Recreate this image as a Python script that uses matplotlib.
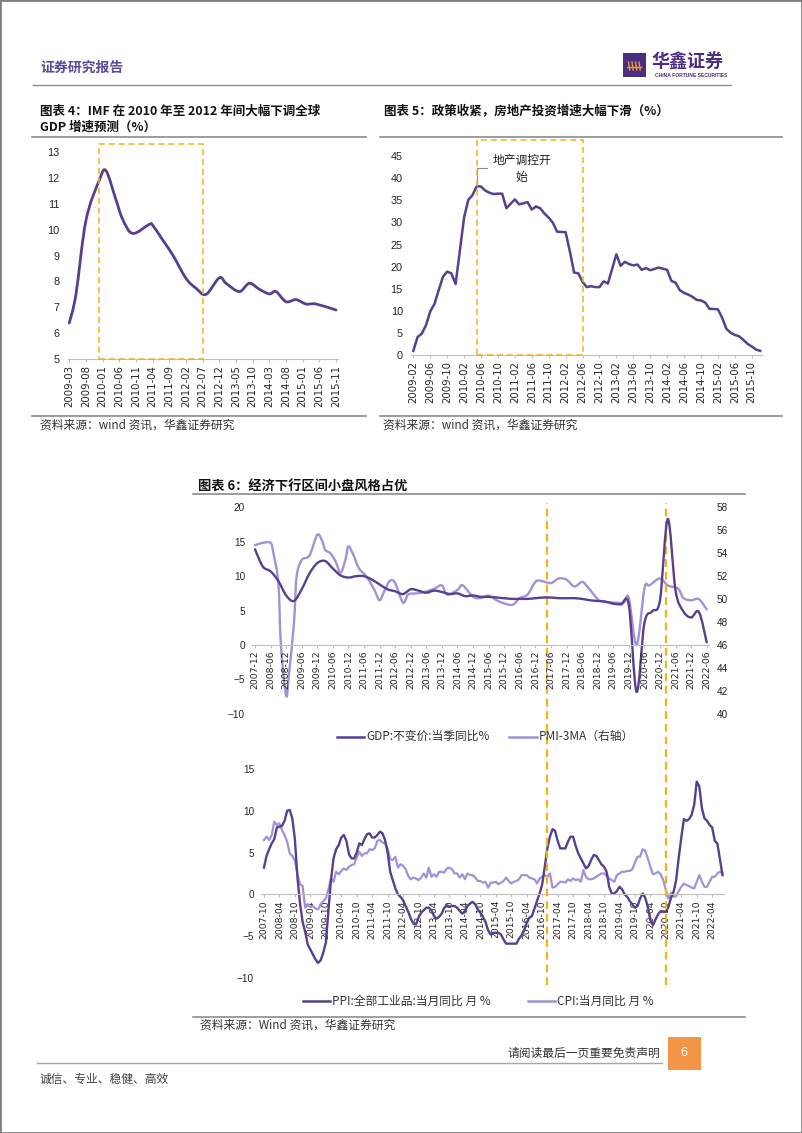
"""Page 6 of the report: IMF GDP forecast, real-estate investment, and the
GDP / PMI / PPI / CPI panel, laid out as on the printed page."""

import matplotlib

matplotlib.use("Agg")
import matplotlib.pyplot as plt  # noqa: E402
import numpy as np  # noqa: E402
from matplotlib.lines import Line2D  # noqa: E402
from matplotlib.patches import PathPatch, Rectangle  # noqa: E402
from matplotlib.path import Path  # noqa: E402

# ---------------- data ----------------
# chart 4: IMF forecast (%)
imf_dates = ["2009-03", "2009-05", "2009-08", "2009-12", "2010-02", "2010-05",
             "2010-07", "2010-10", "2011-03", "2011-04", "2011-07", "2011-10",
             "2012-02", "2012-05", "2012-08", "2012-12", "2013-02", "2013-06",
             "2013-09", "2013-12", "2014-03", "2014-05", "2014-08", "2014-11",
             "2015-02", "2015-05", "2015-11"]
imf_vals = [6.4, 7.5, 10.35, 11.9, 12.27, 11.15, 10.4, 9.85, 10.2, 10.17, 9.6,
            9.03, 8.12, 7.74, 7.5, 8.14, 7.93, 7.61, 7.93, 7.7, 7.52, 7.61,
            7.22, 7.3, 7.13, 7.13, 6.9]
imf_ticks = ["2009-03", "2009-08", "2010-01", "2010-06", "2010-11", "2011-04",
             "2011-09", "2012-02", "2012-07", "2012-12", "2013-05", "2013-10",
             "2014-03", "2014-08", "2015-01", "2015-06", "2015-11"]
imf_box = ["2009-12", "2012-07"]
imf_box_top = 13.3

# chart 5: real-estate investment, cumulative yoy (%), Feb-Dec each year
re_years = [2009, 2010, 2011, 2012, 2013, 2014, 2015]
re_vals = [1.0, 4.1, 4.9, 6.8, 9.9, 11.6, 14.7, 17.7, 18.9, 18.5, 16.1,
           31.1, 35.1, 36.2, 38.2, 38.1, 37.2, 36.7, 36.4, 36.5, 36.5, 33.2,
           35.2, 34.1, 34.3, 34.6, 32.9, 33.6, 33.2, 32.0, 31.1, 29.9, 27.9,
           27.8, 23.5, 18.7, 18.5, 16.6, 15.4, 15.6, 15.4, 15.4, 16.7, 16.2,
           22.8, 20.2, 21.1, 20.6, 20.3, 20.5, 19.3, 19.7, 19.2, 19.5, 19.8,
           19.3, 16.8, 16.4, 14.7, 14.1, 13.7, 13.2, 12.5, 12.4, 11.9, 10.5,
           10.4, 8.5, 6.0, 5.1, 4.6, 4.3, 3.5, 2.6, 2.0, 1.3, 1.0]
re_ticks = ["2009-02", "2009-06", "2009-10", "2010-02", "2010-06", "2010-10",
            "2011-02", "2011-06", "2011-10", "2012-02", "2012-06", "2012-10",
            "2013-02", "2013-06", "2013-10", "2014-02", "2014-06", "2014-10",
            "2015-02", "2015-06", "2015-10"]
re_box = ["2010-05", "2012-06"]
re_box_top = 48.6
re_note = "地产调控开\n始"

# chart 6 top: GDP quarterly yoy from 2007-12, PMI 3MA (right axis)
gdp_start = "2007-12"
gdp_vals = [13.9,
            11.4, 10.7, 9.3, 7.2,
            6.4, 8.1, 10.4, 11.9,
            12.2, 11.1, 10.1, 9.8,
            10.0, 10.0, 9.5, 8.8,
            8.1, 7.8, 7.4, 8.1,
            7.9, 7.6, 7.9, 7.7,
            7.4, 7.5, 7.1, 7.2,
            7.0, 7.0, 6.9, 6.8,
            6.7, 6.7, 6.7, 6.8,
            6.9, 6.9, 6.8, 6.8,
            6.8, 6.7, 6.5, 6.4,
            6.3, 6.0, 5.9, 5.8,
            -6.8, 3.2, 4.9, 6.5,
            18.3, 7.9, 4.9, 4.0,
            4.8, 0.4]
pmi_dates = ["2007-12", "2008-03", "2008-06", "2008-07", "2008-09", "2008-10",
             "2008-12", "2009-01", "2009-03", "2009-04", "2009-06", "2009-09",
             "2009-12", "2010-02", "2010-03", "2010-05", "2010-07", "2010-09",
             "2010-11", "2010-12", "2011-02", "2011-04", "2011-07", "2011-10",
             "2011-12", "2012-02", "2012-04", "2012-06", "2012-09", "2012-11",
             "2013-02", "2013-05", "2013-09", "2013-12", "2014-02", "2014-06",
             "2014-08", "2014-12", "2015-03", "2015-06", "2015-10", "2016-03",
             "2016-06", "2016-09", "2016-12", "2017-02", "2017-06", "2017-09",
             "2017-12", "2018-03", "2018-06", "2018-08", "2018-12", "2019-02",
             "2019-06", "2019-10", "2019-12", "2020-03", "2020-06", "2020-08",
             "2020-12", "2021-03", "2021-07", "2021-09", "2021-12", "2022-03",
             "2022-06"]
pmi_vals = [54.7, 54.9, 54.9, 54.1, 51.4, 45.9,
            41.6, 43.3, 47.9, 51.9, 53.4, 53.8,
            55.6, 55.0, 54.3, 54.0, 53.3, 52.3,
            53.6, 54.6, 53.8, 52.7, 51.95, 50.8,
            49.9, 50.8, 51.6, 51.4, 49.7, 50.4,
            50.5, 50.6, 50.9, 51.2, 50.4, 50.8,
            51.2, 50.2, 50.1, 50.3, 49.8, 49.5,
            50.1, 50.4, 51.5, 51.6, 51.4, 51.8,
            51.7, 51.1, 51.5, 51.1, 50.0, 49.8,
            49.7, 49.7, 50.1, 46.0, 50.9, 51.2,
            51.8, 51.2, 50.9, 50.1, 49.9, 50.0,
            49.1]
top_ticks = ["2007-12", "2008-06", "2008-12", "2009-06", "2009-12", "2010-06",
             "2010-12", "2011-06", "2011-12", "2012-06", "2012-12", "2013-06",
             "2013-12", "2014-06", "2014-12", "2015-06", "2015-12", "2016-06",
             "2016-12", "2017-06", "2017-12", "2018-06", "2018-12", "2019-06",
             "2019-12", "2020-06", "2020-12", "2021-06", "2021-12", "2022-06"]

# chart 6 bottom: PPI and CPI monthly yoy from 2007-10
price_start = "2007-10"
ppi_vals = [3.2, 4.6, 5.4,
            6.1, 6.6, 8.0, 8.1, 8.2, 8.8, 10.0, 10.1, 9.1, 6.6, 2.0, -1.1,
            -3.3, -4.5, -6.0, -6.6, -7.2, -7.8, -8.2, -7.9, -7.0, -5.8, -2.1, 1.7,
            4.3, 5.4, 5.9, 6.8, 7.1, 6.4, 4.8, 4.3, 4.3, 5.0, 6.1, 5.9,
            6.6, 7.2, 7.3, 6.8, 6.8, 7.1, 7.5, 7.3, 6.5, 5.0, 2.7, 1.7,
            0.7, 0.0, -0.3, -0.7, -1.4, -2.1, -2.9, -3.5, -3.6, -2.8, -2.2, -1.9,
            -1.6, -1.6, -1.9, -2.6, -2.9, -2.7, -2.3, -1.6, -1.3, -1.5, -1.4, -1.4,
            -1.6, -2.0, -2.3, -2.0, -1.4, -1.1, -0.9, -1.2, -1.8, -2.2, -2.7, -3.3,
            -4.3, -4.8, -4.6, -4.6, -4.6, -4.8, -5.4, -5.9, -5.9, -5.9, -5.9, -5.9,
            -5.3, -4.9, -4.3, -3.4, -2.8, -2.6, -1.7, -0.8, 0.1, 1.2, 3.3, 5.5,
            6.9, 7.8, 7.6, 6.4, 5.5, 5.5, 5.5, 6.3, 6.9, 6.9, 5.8, 4.9,
            4.3, 3.7, 3.1, 3.4, 4.1, 4.7, 4.6, 4.1, 3.6, 3.3, 2.7, 0.9,
            0.1, 0.1, 0.4, 0.9, 0.6, 0.0, -0.3, -0.8, -1.2, -1.6, -1.4, -0.5,
            0.1, -0.4, -1.5, -3.1, -3.7, -3.0, -2.4, -2.0, -2.1, -2.1, -1.5, -0.4,
            0.3, 1.7, 4.4, 6.8, 9.0, 8.8, 9.0, 9.5, 10.7, 13.5, 12.9, 10.3,
            9.1, 8.8, 8.3, 8.0, 6.4, 6.1, 4.2, 2.3]
cpi_vals = [6.5, 6.9, 6.5,
            7.1, 8.7, 8.3, 8.5, 7.7, 7.1, 6.3, 4.9, 4.6, 4.0, 2.4, 1.2,
            1.0, -1.6, -1.2, -1.5, -1.4, -1.7, -1.8, -1.2, -0.8, -0.5, 0.6, 1.9,
            1.5, 2.7, 2.4, 2.8, 3.1, 2.9, 3.3, 3.5, 3.6, 4.4, 5.1, 4.6,
            4.9, 4.9, 5.4, 5.3, 5.5, 6.4, 6.5, 6.2, 6.1, 5.5, 4.2, 4.1,
            4.5, 3.2, 3.6, 3.4, 3.0, 2.2, 1.8, 2.0, 1.9, 1.7, 2.0, 2.5,
            2.0, 3.2, 2.1, 2.4, 2.1, 2.7, 2.7, 2.6, 3.1, 3.2, 3.0, 2.5,
            2.5, 2.0, 2.4, 1.8, 2.5, 2.3, 2.3, 2.0, 1.6, 1.6, 1.4, 1.5,
            0.8, 1.4, 1.4, 1.5, 1.2, 1.4, 1.6, 2.0, 1.6, 1.3, 1.5, 1.6,
            1.8, 2.3, 2.3, 2.3, 2.0, 1.9, 1.8, 1.3, 1.9, 2.1, 2.3, 2.1,
            2.5, 0.8, 0.9, 1.2, 1.5, 1.5, 1.4, 1.8, 1.6, 1.9, 1.7, 1.8,
            1.5, 2.9, 2.1, 1.8, 1.8, 1.9, 2.1, 2.3, 2.5, 2.5, 2.2, 1.9,
            1.7, 1.5, 2.3, 2.5, 2.7, 2.7, 2.8, 2.8, 3.0, 3.8, 4.5, 4.5,
            5.4, 5.2, 4.3, 3.3, 2.4, 2.5, 2.7, 2.4, 1.7, 0.5, -0.5, 0.2,
            -0.3, -0.2, 0.4, 0.9, 1.3, 1.1, 1.0, 0.8, 0.7, 1.5, 2.3, 1.5,
            0.9, 0.9, 1.5, 2.1, 2.1, 2.5, 2.7, 2.5]
bottom_ticks = ["2007-10", "2008-04", "2008-10", "2009-04", "2009-10", "2010-04",
                "2010-10", "2011-04", "2011-10", "2012-04", "2012-10", "2013-04",
                "2013-10", "2014-04", "2014-10", "2015-04", "2015-10", "2016-04",
                "2016-10", "2017-04", "2017-10", "2018-04", "2018-10", "2019-04",
                "2019-10", "2020-04", "2020-10", "2021-04", "2021-10", "2022-04"]
marker_dates = ["2016-12", "2020-10"]

# ---------------- style ----------------
W, H = 802, 1133
plt.rcParams["font.family"] = ["Liberation Sans", "Noto Sans CJK SC", "DejaVu Sans"]
CJK = ["Noto Sans CJK SC", "DejaVu Sans"]
DARK = "#56408F"
LIGHT = "#A391D8"
GOLD = "#F3B31B"
AXIS = "#BFBFBF"
RULE = "#8C8C8C"
PURPLE = "#4B2D82"
TICK = "#262626"

fig = plt.figure(figsize=(W / 100, H / 100), dpi=100)


def mi(s, base):
    y, m = map(int, s.split("-"))
    by, bm = map(int, base.split("-"))
    return (y - by) * 12 + (m - bm)


def add_ax(left, top, right, bottom):
    return fig.add_axes([left / W, 1 - bottom / H, (right - left) / W, (bottom - top) / H])


def smooth(ax, x, y, **kw):
    # smoothed line through the points (Catmull-Rom as cubic Bezier)
    p = np.column_stack([x, y]).astype(float)
    e = np.vstack([p[0], p, p[-1]])
    verts, codes = [p[0]], [Path.MOVETO]
    for i in range(len(p) - 1):
        p0, p1, p2, p3 = e[i], e[i + 1], e[i + 2], e[i + 3]
        verts += [p1 + (p2 - p0) / 6, p2 - (p3 - p1) / 6, p2]
        codes += [Path.CURVE4] * 3
    ax.add_patch(PathPatch(Path(verts, codes), fill=False, joinstyle="round",
                           capstyle="round", **kw))


def style(ax, ysize, ypad, xsize):
    for s in ("left", "right", "top"):
        ax.spines[s].set_visible(False)
    ax.spines["bottom"].set_color(AXIS)
    ax.spines["bottom"].set_linewidth(0.8)
    ax.patch.set_visible(False)
    ax.tick_params(axis="y", length=0, pad=ypad, labelsize=ysize, labelcolor=TICK)
    ax.tick_params(axis="x", length=2.5, width=0.8, color=AXIS, pad=1.5,
                   labelsize=xsize, labelcolor=TICK)


def xticks(ax, labels, base, size):
    ax.set_xticks([mi(d, base) for d in labels])
    ax.set_xticklabels(labels, rotation=90, fontsize=size, family="DejaVu Sans")


def hline(x1, x2, y, color=RULE, lw=1.0):
    fig.add_artist(Line2D([x1 / W, x2 / W], [1 - y / H, 1 - y / H],
                          transform=fig.transFigure, color=color, lw=lw))


def ftext(x, y, s, size, color="#222222", weight="normal", ha="left"):
    fig.text(x / W, 1 - y / H, s, fontsize=size, color=color, fontweight=weight,
             ha=ha, va="center", family=CJK)


def legend_item(x1, x2, y, color, label):
    hline(x1, x2, y, color=color, lw=1.8)
    ftext(x2 + 2, y, label, 8.5, color="#333333")


# ---------------- page furniture ----------------
fig.add_artist(Rectangle((0, 0), 1, 1, transform=fig.transFigure, fill=False,
                         ec="#808080", lw=2))
ftext(40, 68, "证券研究报告", 10, color="#5B4A9A", weight="bold")
fig.add_artist(Rectangle((623 / W, 1 - 77 / H), 22.5 / W, 24 / H,
                         transform=fig.transFigure, fc=PURPLE, ec="none"))
hline(627, 641, 67, color="#F39A2B", lw=1.0)
for sx in (628.5, 632, 635.5, 639):
    fig.add_artist(Line2D([sx / W, (sx + 1.2) / W], [1 - 62 / H, 1 - 70 / H],
                          transform=fig.transFigure, color="#F39A2B", lw=1.0))
ftext(651, 62.5, "华鑫证券", 13, color=PURPLE, weight="bold")
fig.text(655 / W, 1 - 75.5 / H, "CHINA FORTUNE SECURITIES", fontsize=3.6,
         color=PURPLE, fontweight="bold", ha="left", va="center")
hline(33, 731, 84.5)

ftext(40, 111, "图表 4：IMF 在 2010 年至 2012 年间大幅下调全球", 9, color="#111111", weight="bold")
ftext(40, 127, "GDP 增速预测（%）", 9, color="#111111", weight="bold")
ftext(384, 111, "图表 5：政策收紧，房地产投资增速大幅下滑（%）", 9, color="#111111", weight="bold")
hline(32, 366, 137.3, lw=1.2)
hline(380, 782, 137.3, lw=1.2)
hline(32, 366, 416, lw=1.2)
hline(380, 782, 416, lw=1.2)
ftext(40, 425.5, "资料来源：wind 资讯，华鑫证券研究", 8.5, color="#333333")
ftext(383, 425.5, "资料来源：wind 资讯，华鑫证券研究", 8.5, color="#333333")

ftext(198, 485.5, "图表 6：经济下行区间小盘风格占优", 9.5, color="#111111", weight="bold")
hline(193, 745, 494, lw=1.2)
hline(193, 745, 1016.5, lw=1.2)
ftext(200, 1025.5, "资料来源：Wind 资讯，华鑫证券研究", 8.5, color="#333333")

ftext(660, 1053, "请阅读最后一页重要免责声明", 8.5, color="#333333", ha="right")
fig.add_artist(Rectangle((667.5 / W, 1 - 1070 / H), 33.3 / W, 33 / H,
                         transform=fig.transFigure, fc="#F39447", ec="none"))
fig.text(684 / W, 1 - 1053 / H, "6", fontsize=9, color="white", ha="center", va="center")
hline(37, 662, 1062.5, color="#A6A6A6", lw=1.0)
ftext(40, 1079, "诚信、专业、稳健、高效", 8.5, color="#404040")

# ---------------- chart 4 ----------------
ax4 = add_ax(67.6, 151.7, 338.0, 359.3)
base4 = imf_dates[0]
smooth(ax4, [mi(d, base4) for d in imf_dates], imf_vals, ec=DARK, lw=2.0)
ax4.set_xlim(-0.5, 80.6)
ax4.set_ylim(5, 13)
ax4.set_yticks(range(5, 14))
style(ax4, 7.8, 6, 7.3)
xticks(ax4, imf_ticks, base4, 7.3)
b0, b1 = mi(imf_box[0], base4), mi(imf_box[1], base4)
ax4.add_patch(Rectangle((b0, 5), b1 - b0, imf_box_top - 5, fill=False, ec=GOLD,
                        lw=1.1, ls=(0, (4, 2.5)), clip_on=False, zorder=3))

# ---------------- chart 5 ----------------
ax5 = add_ax(411.2, 156.0, 762.3, 355.3)
base5 = re_ticks[0]
re_dates = [f"{y}-{m:02d}" for y in re_years for m in range(2, 13)]
x5 = [mi(d, base5) for d in re_dates]
ax5.plot(x5, re_vals, color=DARK, lw=1.8, solid_joinstyle="round")
ax5.set_xlim(-0.5, 82.5)
ax5.set_ylim(0, 45)
ax5.set_yticks(range(0, 50, 5))
style(ax5, 7.8, 6, 7.3)
xticks(ax5, re_ticks, base5, 7.3)
b0, b1 = mi(re_box[0], base5), mi(re_box[1], base5)
ax5.add_patch(Rectangle((b0, 0), b1 - b0, re_box_top, fill=False, ec=GOLD,
                        lw=1.1, ls=(0, (4, 2.5)), clip_on=False, zorder=3))
pk = int(np.argmax(re_vals))
px, py = x5[pk], re_vals[pk]
ax5.plot([px, px, px + 2.5], [py, py + 4, py + 4], color="#8C8C8C", lw=0.8,
         clip_on=False)
ax5.text(px + 10.6, py + 3.8, re_note, ha="center", va="center", fontsize=8.5,
         family=CJK, color="#222222", linespacing=1.4)

# ---------------- chart 6 top ----------------
ax6 = add_ax(252.4, 507.3, 709.3, 713.9)
ax6r = ax6.twinx()
ax6.set_zorder(ax6r.get_zorder() + 1)
smooth(ax6, [3 * i for i in range(len(gdp_vals))], gdp_vals, ec=DARK, lw=1.7)
smooth(ax6r, [mi(d, gdp_start) for d in pmi_dates], pmi_vals, ec=LIGHT, lw=1.7)
ax6.set_xlim(-1, 175)
ax6.set_ylim(-10, 20)
ax6.set_yticks(range(-10, 25, 5))
ax6r.set_ylim(40, 58)
ax6r.set_yticks(range(40, 60, 2))
style(ax6, 7.2, 5.3, 6.7)
ax6.spines["bottom"].set_position(("data", 0))
xticks(ax6, top_ticks, gdp_start, 6.7)
for s in ax6r.spines.values():
    s.set_visible(False)
ax6r.tick_params(axis="y", length=0, pad=5.3, labelsize=7.2, labelcolor=TICK)
legend_item(337, 364, 736.7, DARK, "GDP:不变价:当季同比%")
legend_item(508.6, 537, 736.7, LIGHT, "PMI-3MA（右轴）")

# ---------------- chart 6 bottom ----------------
ax7 = add_ax(261.4, 769.0, 723.8, 977.9)
xm = range(len(ppi_vals))
ax7.plot(xm, cpi_vals, color=LIGHT, lw=1.6, solid_joinstyle="round")
ax7.plot(xm, ppi_vals, color=DARK, lw=1.7, solid_joinstyle="round")
ax7.set_xlim(-1, 178.5)
ax7.set_ylim(-10, 15)
ax7.set_yticks(range(-10, 20, 5))
style(ax7, 7.2, 5.3, 6.7)
ax7.spines["bottom"].set_position(("data", 0))
xticks(ax7, bottom_ticks, price_start, 6.7)
for d in marker_dates:
    ax7.axvline(mi(d, price_start), ymin=-0.034, ymax=2.273, clip_on=False,
                color=GOLD, lw=1.6, dashes=(3.5, 2.2), zorder=4)
legend_item(303, 330, 1001, DARK, "PPI:全部工业品:当月同比 月 %")
legend_item(528, 555, 1001, LIGHT, "CPI:当月同比 月 %")

fig.savefig("out.png", dpi=100)
